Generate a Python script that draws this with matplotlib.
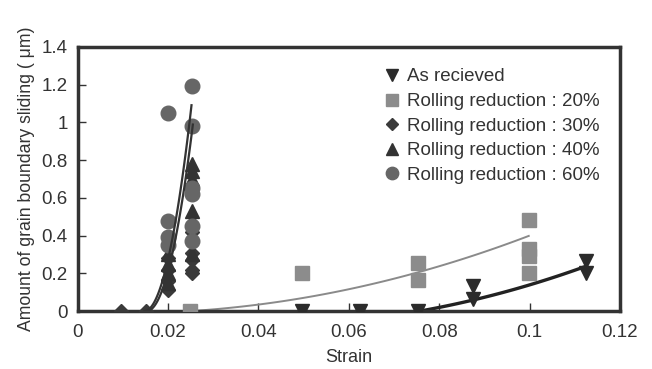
import matplotlib
matplotlib.use("Agg")
import matplotlib.pyplot as plt
import numpy as np

plt.rcParams['font.family'] = ['Liberation Sans', 'DejaVu Sans']

# ---- data ----
asr_x = [0.0496, 0.0624, 0.0752, 0.0874, 0.0874, 0.1124, 0.1124]
asr_y = [0.0, 0.0, 0.0, 0.065, 0.135, 0.20, 0.265]

r20_x = [0.0248, 0.0496, 0.0752, 0.0752, 0.0998, 0.0998, 0.0998, 0.0998]
r20_y = [0.0, 0.20, 0.255, 0.165, 0.48, 0.33, 0.29, 0.20]

r30_x = [0.0097, 0.0152, 0.0200, 0.0200, 0.0200, 0.0200, 0.0252, 0.0252, 0.0252, 0.0252, 0.0252]
r30_y = [0.0, 0.0, 0.28, 0.22, 0.16, 0.11, 0.42, 0.31, 0.27, 0.22, 0.20]

r40_x = [0.0200, 0.0200, 0.0200, 0.0200, 0.0252, 0.0252, 0.0252, 0.0252, 0.0252, 0.0252]
r40_y = [0.30, 0.25, 0.20, 0.15, 0.78, 0.74, 0.70, 0.53, 0.48, 0.30]

r60_x = [0.0200, 0.0200, 0.0200, 0.0200, 0.0252, 0.0252, 0.0252, 0.0252, 0.0252, 0.0252]
r60_y = [1.05, 0.475, 0.39, 0.35, 1.19, 0.98, 0.65, 0.62, 0.45, 0.37]

# trend line coefficients (y = A*(x-x0)^2 + B*(x-x0)), ranges
trend_asr = dict(x0=0.0757, A=60.0, B=4.255, x1=0.1124)
trend_r20 = dict(x0=0.0250, A=50.67, B=1.5335, x1=0.0998)
trend_r60 = dict(x0=0.0148, A=10085.0, B=0.0, x1=0.0252)
trend_r40 = dict(x0=0.0153, A=9500.0, B=0.0, x1=0.0255)

legend_labels = ["As recieved", "Rolling reduction : 20%", "Rolling reduction : 30%",
                 "Rolling reduction : 40%", "Rolling reduction : 60%"]
xticks = [0, 0.02, 0.04, 0.06, 0.08, 0.1, 0.12]
xtick_labels = ["0", "0.02", "0.04", "0.06", "0.08", "0.1", "0.12"]
yticks = [0, 0.2, 0.4, 0.6, 0.8, 1.0, 1.2, 1.4]
ytick_labels = ["0", "0.2", "0.4", "0.6", "0.8", "1", "1.2", "1.4"]


def trend(p, n=100):
    x = np.linspace(p['x0'], p['x1'], n)
    u = x - p['x0']
    return x, p['A'] * u ** 2 + p['B'] * u


fig = plt.figure(figsize=(6.52, 3.69), dpi=100)
ax = fig.add_axes([0.119, 0.157, 0.832, 0.716])

dark = '#2b2b2b'
gray = '#8c8c8c'
mid = '#666666'
txt = '#333333'
fs = 13.5

# trend lines
x, y = trend(trend_r20)
ax.plot(x, y, color='#8a8a8a', lw=1.4, zorder=2)
x, y = trend(trend_asr)
ax.plot(x, y, color='#222222', lw=2.4, zorder=2)
x, y = trend(trend_r40)
ax.plot(x, y, color='#333333', lw=1.6, zorder=4)
x, y = trend(trend_r60)
ax.plot(x, y, color='#333333', lw=1.6, zorder=4)

ax.plot(asr_x, asr_y, 'v', color=dark, ms=10.5, ls='none', label=legend_labels[0], zorder=3)
ax.plot(r20_x, r20_y, 's', color=gray, ms=9.5, ls='none', label=legend_labels[1], zorder=3)
ax.plot(r30_x, r30_y, 'D', color='#3a3a3a', ms=7.5, ls='none', label=legend_labels[2], zorder=3)
ax.plot(r40_x, r40_y, '^', color='#333333', ms=10.5, ls='none', label=legend_labels[3], zorder=3)
ax.plot(r60_x, r60_y, 'o', color=mid, ms=10.5, ls='none', label=legend_labels[4], zorder=3)

ax.set_xlim(0, 0.12)
ax.set_ylim(0, 1.4)
ax.set_xticks(xticks)
ax.set_xticklabels(xtick_labels)
ax.set_yticks(yticks)
ax.set_yticklabels(ytick_labels)
ax.tick_params(direction='in', length=6, width=1, colors=txt, labelsize=fs,
               labelcolor=txt)
ax.tick_params(axis='x', pad=9)
ax.tick_params(axis='y', pad=7)

for s in ax.spines.values():
    s.set_linewidth(2.5)
    s.set_color(txt)

ax.set_xlabel('Strain', fontsize=13, color=txt, labelpad=6)
ax.set_ylabel('Amount of grain boundary sliding ( μm)', fontsize=12.7, color=txt, labelpad=5)

leg = ax.legend(loc='upper left', bbox_to_anchor=(0.548, 0.947), frameon=False,
                fontsize=fs, handletextpad=0.3, handlelength=1.0,
                labelspacing=0.40, borderaxespad=0, markerscale=0.85)
for t in leg.get_texts():
    t.set_color(txt)

fig.savefig('out.png', dpi=100, facecolor='white')
